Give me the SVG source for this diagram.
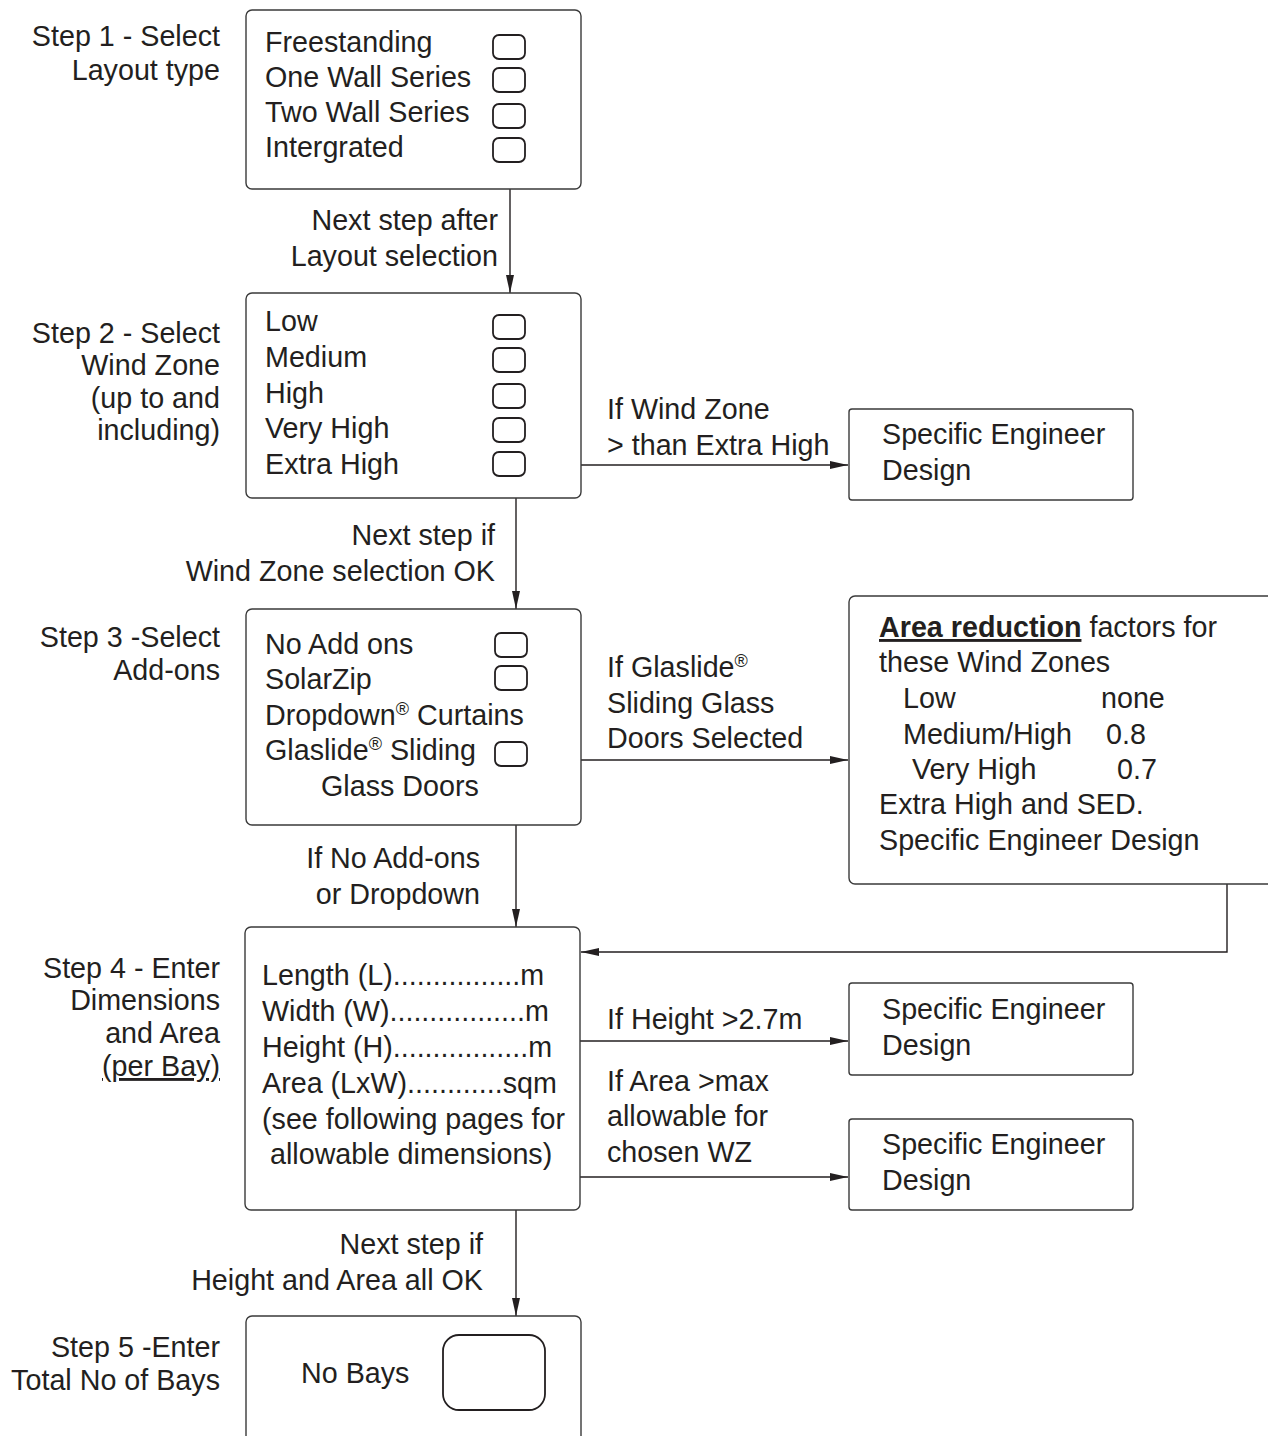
<svg xmlns="http://www.w3.org/2000/svg" width="1268" height="1436" viewBox="0 0 1268 1436">
<style>
text{font-family:"Liberation Sans",Arial,sans-serif;font-size:28.7px;fill:#231f20}
.r{text-anchor:end}
.box{fill:#fff;stroke:#3a3a3a;stroke-width:1.4}
.cb{fill:#fff;stroke:#231f20;stroke-width:1.8}
.ln{fill:none;stroke:#231f20;stroke-width:1.4}
</style>
<defs>
<marker id="ah" viewBox="0 0 18 8" refX="18" refY="4" markerWidth="18" markerHeight="8" markerUnits="userSpaceOnUse" orient="auto">
<path d="M0,0 L18,4 L0,8 Z" fill="#231f20"/>
</marker>
</defs>
<rect width="1268" height="1436" fill="#fff"/>

<g id="labels">
<text class="r" x="220" y="46">Step 1 - Select</text>
<text class="r" x="220" y="80">Layout type</text>
<text class="r" x="220" y="343">Step 2 - Select</text>
<text class="r" x="220" y="375">Wind Zone</text>
<text class="r" x="220" y="408">(up to and</text>
<text class="r" x="220" y="440">including)</text>
<text class="r" x="220" y="647">Step 3 -Select</text>
<text class="r" x="220" y="680">Add-ons</text>
<text class="r" x="220" y="978">Step 4 - Enter</text>
<text class="r" x="220" y="1010">Dimensions</text>
<text class="r" x="220" y="1043">and Area</text>
<text class="r" x="220" y="1076" text-decoration="underline">(per Bay)</text>
<text class="r" x="220" y="1357">Step 5 -Enter</text>
<text class="r" x="220" y="1390">Total No of Bays</text>
</g>

<g id="connectors">
<line class="ln" x1="510" y1="189" x2="510" y2="293" marker-end="url(#ah)"/>
<text class="r" x="498" y="230">Next step after</text>
<text class="r" x="498" y="266">Layout selection</text>
<line class="ln" x1="581" y1="465" x2="848" y2="465" marker-end="url(#ah)"/>
<text x="607" y="419">If Wind Zone</text>
<text x="607" y="455">&gt; than Extra High</text>
<line class="ln" x1="516" y1="498" x2="516" y2="609" marker-end="url(#ah)"/>
<text class="r" x="495" y="545">Next step if</text>
<text class="r" x="495" y="581">Wind Zone selection OK</text>
<line class="ln" x1="581" y1="760" x2="848" y2="760" marker-end="url(#ah)"/>
<text x="607" y="677">If Glaslide<tspan font-size="18" dy="-10">®</tspan></text>
<text x="607" y="713">Sliding Glass</text>
<text x="607" y="748">Doors Selected</text>
<polyline class="ln" points="1227,884 1227,952 581,952" marker-end="url(#ah)"/>
<line class="ln" x1="516" y1="825" x2="516" y2="927" marker-end="url(#ah)"/>
<text class="r" x="480" y="868">If No Add-ons</text>
<text class="r" x="480" y="904">or Dropdown</text>
<line class="ln" x1="580" y1="1041" x2="848" y2="1041" marker-end="url(#ah)"/>
<text x="607" y="1029">If Height &gt;2.7m</text>
<line class="ln" x1="580" y1="1177" x2="848" y2="1177" marker-end="url(#ah)"/>
<text x="607" y="1091">If Area &gt;max</text>
<text x="607" y="1126">allowable for</text>
<text x="607" y="1162">chosen WZ</text>
<line class="ln" x1="516" y1="1210" x2="516" y2="1316" marker-end="url(#ah)"/>
<text class="r" x="483" y="1254">Next step if</text>
<text class="r" x="483" y="1290">Height and Area all OK</text>
</g>

<g id="step1">
<rect class="box" x="246" y="10" width="335" height="179" rx="6"/>
<text x="265" y="52">Freestanding</text>
<text x="265" y="87">One Wall Series</text>
<text x="265" y="122">Two Wall Series</text>
<text x="265" y="157">Intergrated</text>
<rect class="cb" x="493" y="35" width="32" height="24" rx="6"/>
<rect class="cb" x="493" y="68" width="32" height="24" rx="6"/>
<rect class="cb" x="493" y="104" width="32" height="24" rx="6"/>
<rect class="cb" x="493" y="138" width="32" height="24" rx="6"/>
</g>

<g id="step2">
<rect class="box" x="246" y="293" width="335" height="205" rx="6"/>
<text x="265" y="331">Low</text>
<text x="265" y="367">Medium</text>
<text x="265" y="403">High</text>
<text x="265" y="438">Very High</text>
<text x="265" y="474">Extra High</text>
<rect class="cb" x="493" y="315" width="32" height="24" rx="6"/>
<rect class="cb" x="493" y="348" width="32" height="24" rx="6"/>
<rect class="cb" x="493" y="384" width="32" height="24" rx="6"/>
<rect class="cb" x="493" y="418" width="32" height="24" rx="6"/>
<rect class="cb" x="493" y="452" width="32" height="24" rx="6"/>
</g>

<g id="sed1">
<rect class="box" x="849" y="409" width="284" height="91" rx="3"/>
<text x="882" y="444">Specific Engineer</text>
<text x="882" y="480">Design</text>
</g>

<g id="step3">
<rect class="box" x="246" y="609" width="335" height="216" rx="6"/>
<text x="265" y="654">No Add ons</text>
<text x="265" y="689">SolarZip</text>
<text x="265" y="725">Dropdown<tspan font-size="18" dy="-10">®</tspan><tspan dy="10"> Curtains</tspan></text>
<text x="265" y="760">Glaslide<tspan font-size="18" dy="-10">®</tspan><tspan dy="10"> Sliding</tspan></text>
<text x="321" y="796">Glass Doors</text>
<rect class="cb" x="495" y="633" width="32" height="24" rx="6"/>
<rect class="cb" x="495" y="666" width="32" height="24" rx="6"/>
<rect class="cb" x="495" y="742" width="32" height="24" rx="6"/>
</g>

<g id="area">
<rect class="box" x="849" y="596" width="440" height="288" rx="6"/>
<text x="879" y="637"><tspan font-weight="bold" text-decoration="underline">Area reduction</tspan> factors for</text>
<text x="879" y="672">these Wind Zones</text>
<text x="903" y="708">Low</text>
<text x="1101" y="708">none</text>
<text x="903" y="744">Medium/High</text>
<text x="1106" y="744">0.8</text>
<text x="912" y="779">Very High</text>
<text x="1117" y="779">0.7</text>
<text x="879" y="814">Extra High and SED.</text>
<text x="879" y="850">Specific Engineer Design</text>
</g>

<g id="step4">
<rect class="box" x="245" y="927" width="335" height="283" rx="6"/>
<text x="262" y="985">Length (L)................m</text>
<text x="262" y="1021">Width (W).................m</text>
<text x="262" y="1057">Height (H).................m</text>
<text x="262" y="1093">Area (LxW)............sqm</text>
<text x="262" y="1129">(see following pages for</text>
<text x="270" y="1164">allowable dimensions)</text>
</g>

<g id="sed2">
<rect class="box" x="849" y="983" width="284" height="92" rx="3"/>
<text x="882" y="1019">Specific Engineer</text>
<text x="882" y="1055">Design</text>
</g>

<g id="sed3">
<rect class="box" x="849" y="1119" width="284" height="91" rx="3"/>
<text x="882" y="1154">Specific Engineer</text>
<text x="882" y="1190">Design</text>
</g>

<g id="step5">
<rect class="box" x="246" y="1316" width="335" height="140" rx="6"/>
<text x="301" y="1383">No Bays</text>
<rect class="cb" x="443" y="1335" width="102" height="75" rx="16"/>
</g>
</svg>
